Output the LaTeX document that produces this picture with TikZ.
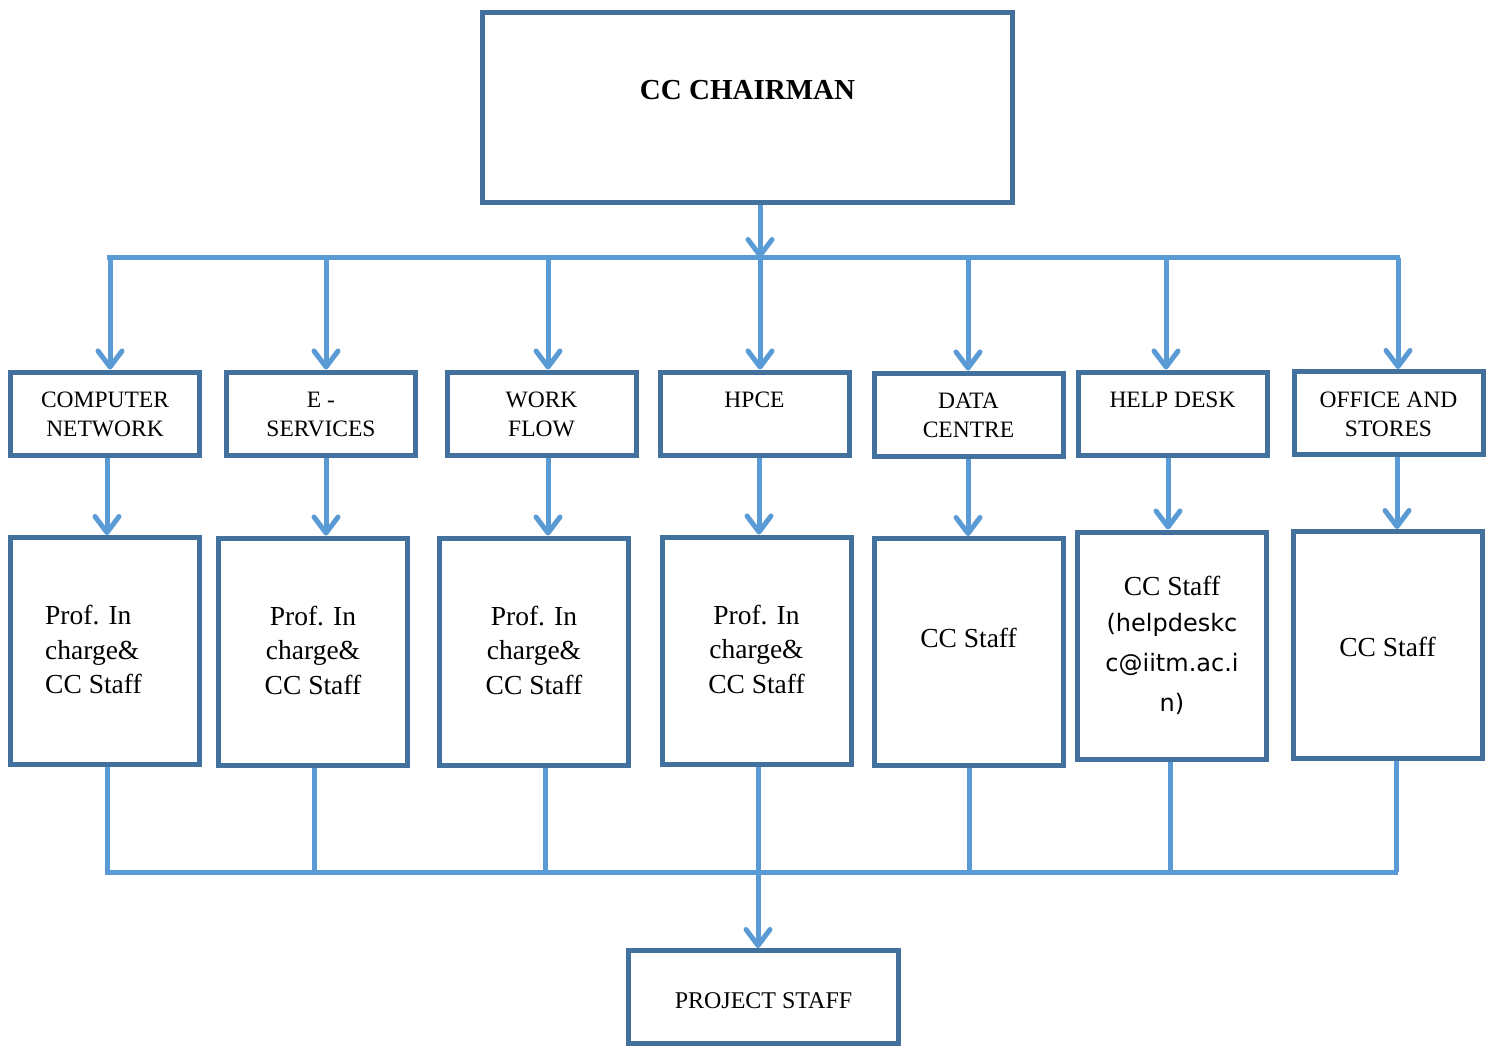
\documentclass[tikz,border=0pt]{standalone}
\usepackage{fontspec}
\setmainfont{Liberation Serif}
\newfontfamily\helpfont{DejaVu Sans}
\usepackage{tikz}
\usetikzlibrary{arrows.meta}
\usetikzlibrary{positioning}
\definecolor{boxblue}{HTML}{41719C}
\definecolor{linkblue}{HTML}{5B9BD5}
\tikzset{unitbox/.style={draw=boxblue, line width=5pt, minimum width=189pt, minimum height=83pt, inner sep=0pt}}
\tikzset{staffbox/.style={draw=boxblue, line width=5pt, minimum width=189pt, minimum height=227pt, inner sep=0pt}}
\tikzset{unittxt/.style={inner sep=0pt, align=center, font=\fontsize{23.5}{29}\selectfont}}
\tikzset{stafftxt/.style={inner sep=0pt, align=center, font=\fontsize{27.5}{34.5}\selectfont}}

\begin{document}
\begin{tikzpicture}[x=1pt, y=-1pt]
\tikzstyle{link} = [draw=linkblue, line width=5pt]
\tikzstyle{linkarrow} = [link, -{Straight Barb[length=16pt, width=24pt, round]}]
\useasboundingbox (0,0) rectangle (1490,1048);

\node[draw=boxblue, line width=5pt, minimum width=530pt, minimum height=190pt](chair) at (747.5, 107.5){};
\node[inner sep=0pt, font=\bfseries\fontsize{29}{35}\selectfont, below=70pt of chair.north](chairtxt){CC CHAIRMAN};

\node[unitbox](n1) at (105, 413.5){};
\node[unitbox](n2) at (321, 413.5){};
\node[unitbox](n3) at (541.5, 413.5){};
\node[unitbox](n4) at (754.5, 413.5){};
\node[unitbox](n5) at (968.5, 414.5){};
\node[unitbox](n6) at (1172.5, 413.5){};
\node[unitbox](n7) at (1388.5, 413){};
\node[unittxt, below=22.5pt of n1.north](t1){COMPUTER\\NETWORK};
\node[unittxt, below=22.5pt of n2.north](t2){E -\\SERVICES};
\node[unittxt, below=22.5pt of n3.north](t3){WORK\\FLOW};
\node[unittxt, below=22.5pt of n4.north](t4){HPCE};
\node[unittxt, below=22.5pt of n5.north](t5){DATA\\CENTRE};
\node[unittxt, below=22.5pt of n6.north](t6){HELP DESK};
\node[unittxt, below=22.5pt of n7.north](t7){OFFICE AND\\STORES};

\node[staffbox](s1) at (105, 651){};
\node[staffbox](s2) at (313, 651.5){};
\node[staffbox](s3) at (534, 651.5){};
\node[staffbox](s4) at (756.5, 650.5){};
\node[staffbox](s5) at (968.5, 652){};
\node[staffbox](s6) at (1172, 645.5){};
\node[staffbox](s7) at (1387.5, 645){};
\node[stafftxt, align=left, anchor=north west](u1) at ([xshift=37pt, yshift=-70pt]s1.north west){Prof. In\\charge\&\\CC Staff};
\node[stafftxt, below=70pt of s2.north](u2){Prof. In\\charge\&\\CC Staff};
\node[stafftxt, below=70pt of s3.north](u3){Prof. In\\charge\&\\CC Staff};
\node[stafftxt, below=70pt of s4.north](u4){Prof. In\\charge\&\\CC Staff};
\node[stafftxt, below=92pt of s5.north](u5){CC Staff};
\node[stafftxt, font=\fontsize{27.5}{36}\selectfont, below=46pt of s6.north](u6){CC Staff\\{\helpfont\fontsize{24}{36}\selectfont (helpdeskc}\\[4pt]{\helpfont\fontsize{24}{36}\selectfont c@iitm.ac.i}\\[4pt]{\helpfont\fontsize{24}{36}\selectfont n)}};
\node[stafftxt, below=108pt of s7.north](u7){CC Staff};

\node[draw=boxblue, line width=5pt, minimum width=270pt, minimum height=93pt](proj) at (763.5, 997){};
\node[inner sep=0pt, font=\fontsize{24}{29}\selectfont, below=44pt of proj.north](projtxt){PROJECT STAFF};

\foreach \i/\x in {1/110, 2/326, 3/548, 4/760, 5/968, 6/1166, 7/1398}
  \coordinate (d\i) at (\x, 258);
\foreach \i/\x in {1/107, 2/326, 3/548, 4/759, 5/968, 6/1168, 7/1397}
  \coordinate (m\i) at (\x, 500);
\foreach \i/\x in {1/107, 2/314, 3/545, 4/758, 5/969, 6/1170, 7/1396}
  \coordinate (e\i) at (\x, 872);

\draw[linkarrow] (d4 |- chair.south) -- (d4);
\draw[link] ([xshift=-3pt]d1) -- ([xshift=2pt]d7);
\foreach \i in {1,...,7}{
  \draw[linkarrow] (d\i) -- (d\i |- n\i.north);
  \draw[linkarrow] (m\i |- n\i.south) -- (m\i |- s\i.north);
  \draw[link] (e\i |- s\i.south) -- (e\i);
}
\draw[link] ([xshift=-2pt]e1) -- ([xshift=2pt]e7);
\draw[linkarrow] (e4) -- (e4 |- proj.north);
\end{tikzpicture}
\end{document}
